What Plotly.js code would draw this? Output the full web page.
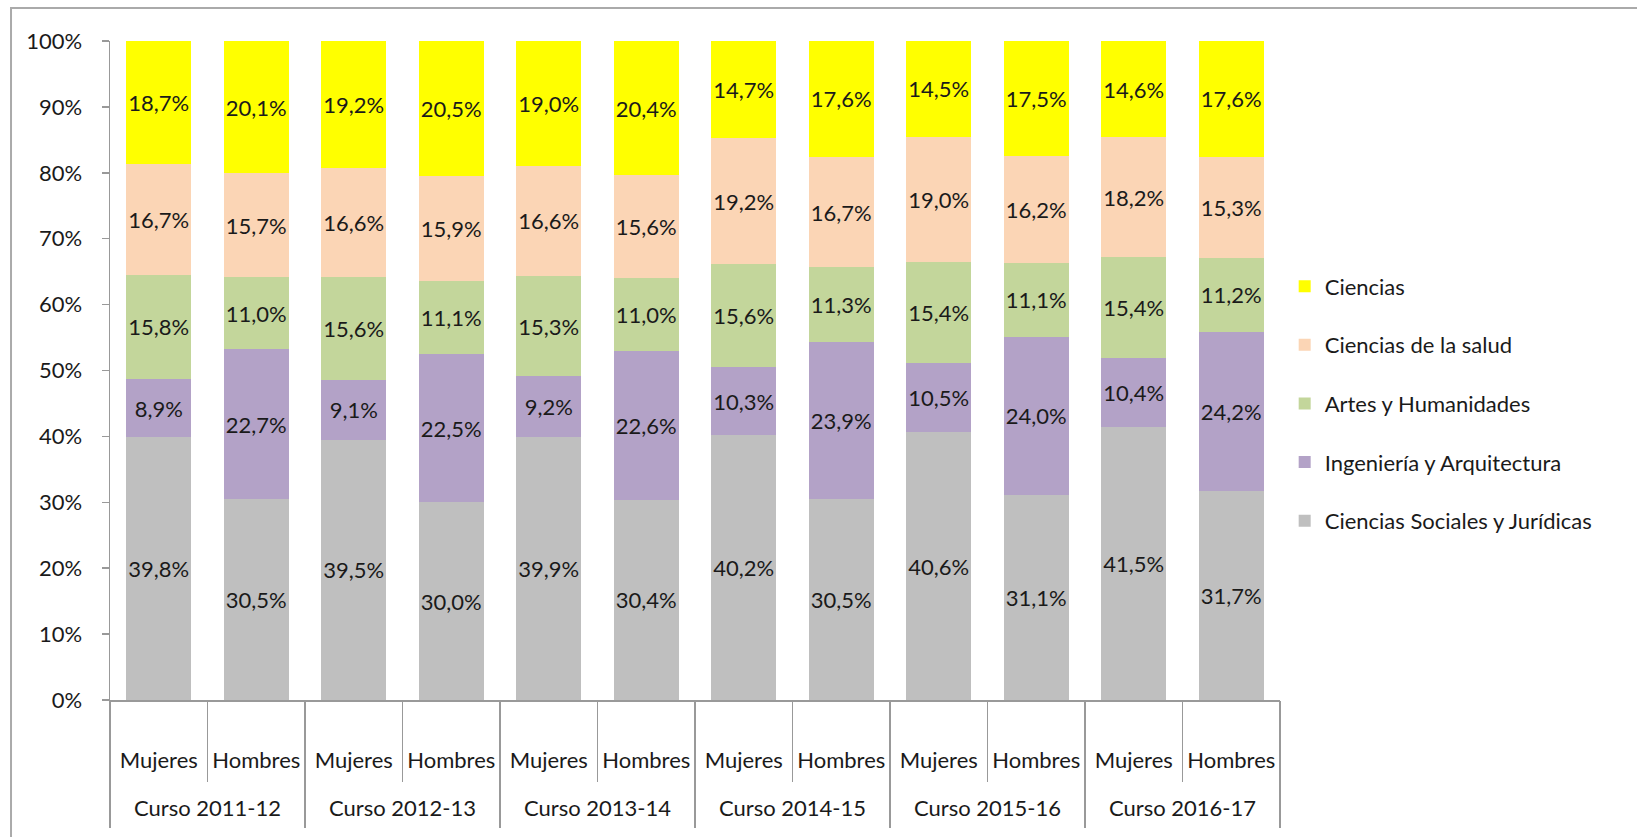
<!DOCTYPE html>
<html>
<head>
<meta charset="utf-8">
<script src="https://cdn.plot.ly/plotly-3.0.1.min.js"></script>
<style>html,body{margin:0;padding:0;background:#fff;}#chart{width:1637px;height:837px;}</style>
</head>
<body>
<div id="chart"></div>
<script>
const cursos = ["Curso 2011-12","Curso 2011-12","Curso 2012-13","Curso 2012-13","Curso 2013-14","Curso 2013-14",
                "Curso 2014-15","Curso 2014-15","Curso 2015-16","Curso 2015-16","Curso 2016-17","Curso 2016-17"];
const sexo = ["Mujeres","Hombres","Mujeres","Hombres","Mujeres","Hombres",
              "Mujeres","Hombres","Mujeres","Hombres","Mujeres","Hombres"];

const socialesJuridicas = [39.8,30.5,39.5,30.0,39.9,30.4,40.2,30.5,40.6,31.1,41.5,31.7];
const ingenieriaArq     = [8.9,22.7,9.1,22.5,9.2,22.6,10.3,23.9,10.5,24.0,10.4,24.2];
const artesHumanidades  = [15.8,11.0,15.6,11.1,15.3,11.0,15.6,11.3,15.4,11.1,15.4,11.2];
const cienciasSalud     = [16.7,15.7,16.6,15.9,16.6,15.6,19.2,16.7,19.0,16.2,18.2,15.3];
const ciencias          = [18.7,20.1,19.2,20.5,19.0,20.4,14.7,17.6,14.5,17.5,14.6,17.6];

const series = [
  {name:"Ciencias Sociales y Jurídicas", values:socialesJuridicas, color:"#BFBFBF"},
  {name:"Ingeniería y Arquitectura", values:ingenieriaArq, color:"#B3A2C7"},
  {name:"Artes y Humanidades", values:artesHumanidades, color:"#C3D69B"},
  {name:"Ciencias de la salud", values:cienciasSalud, color:"#FBD5B5"},
  {name:"Ciencias", values:ciencias, color:"#FFFF00"}
];

const FONT = "Lato, 'Open Sans', sans-serif";
const FS = 22;
const TXT = "#1a1a1a";
const AX = "#999";
const fmt = v => v.toFixed(1).replace(".", ",") + "%";

const keys = cursos.map((c, i) => c + " | " + sexo[i]);
const grupos = cursos.filter((c, i) => cursos.indexOf(c) === i);

const traces = series.map((s, i) => ({
  type: "bar",
  name: s.name,
  legendgroup: "g" + i,
  legendrank: series.length - i,
  x: keys,
  y: s.values,
  text: s.values.map(fmt),
  textposition: "inside",
  insidetextanchor: "middle",
  textangle: 0,
  constraintext: "none",
  textfont: {family: FONT, size: FS, color: TXT},
  marker: {color: s.color, line: {width: 0}},
  hoverinfo: "skip"
}));

// invisible helper trace that carries the course-level categories
traces.push({
  type: "scatter", mode: "markers", x: grupos, y: grupos.map(() => null),
  xaxis: "x2", yaxis: "y", showlegend: false, hoverinfo: "skip",
  marker: {opacity: 0}
});

const layout = {
  width: 1637, height: 837,
  margin: {l: 110, r: 357, t: 41, b: 137},
  paper_bgcolor: "#fff", plot_bgcolor: "#fff",
  barmode: "stack",
  barnorm: "percent",
  bargap: 0.333,
  showlegend: true,
  legend: {
    x: 1.004, xanchor: "left", y: 0.45, yanchor: "middle",
    traceorder: "grouped", tracegroupgap: 27,
    font: {family: FONT, size: FS, color: TXT},
    bgcolor: "rgba(0,0,0,0)"
  },
  font: {family: FONT, size: FS, color: TXT},
  xaxis: {
    type: "category",
    categoryarray: keys, categoryorder: "array",
    tickmode: "array", tickvals: keys, ticktext: sexo,
    tickson: "boundaries",
    automargin: false, tickangle: 0,
    showline: true, linecolor: AX, linewidth: 1.5,
    ticks: "outside", ticklen: 80, tickcolor: AX, tickwidth: 1.5,
    ticklabelstandoff: 40,
    tickfont: {family: FONT, size: FS, color: TXT},
    showgrid: false, zeroline: false, fixedrange: true
  },
  xaxis2: {
    type: "category", overlaying: "x", anchor: "y", side: "bottom",
    categoryarray: grupos, categoryorder: "array",
    range: [-0.5, grupos.length - 0.5],
    tickson: "boundaries",
    automargin: false, tickangle: 0,
    showline: false,
    ticks: "outside", ticklen: 127, tickcolor: AX, tickwidth: 1.5,
    ticklabelstandoff: 93,
    tickfont: {family: FONT, size: FS, color: TXT},
    showgrid: false, zeroline: false, fixedrange: true
  },
  yaxis: {
    range: [0, 100], dtick: 10, ticksuffix: "%",
    automargin: false,
    showline: true, linecolor: AX, linewidth: 1.5,
    ticks: "outside", ticklen: 7, tickcolor: AX, tickwidth: 1.5,
    ticklabelstandoff: 15,
    tickfont: {family: FONT, size: FS, color: TXT},
    showgrid: false, zeroline: false, fixedrange: true
  },
  shapes: [{
    type: "rect", xref: "paper", yref: "paper",
    x0: -0.0846, x1: 1.4, y0: -0.3, y1: 1.0501,
    line: {color: "#aaa", width: 2}, fillcolor: "rgba(0,0,0,0)", layer: "below"
  }]
};

Plotly.newPlot("chart", traces, layout, {displayModeBar: false, staticPlot: true});
</script>
</body>
</html>
